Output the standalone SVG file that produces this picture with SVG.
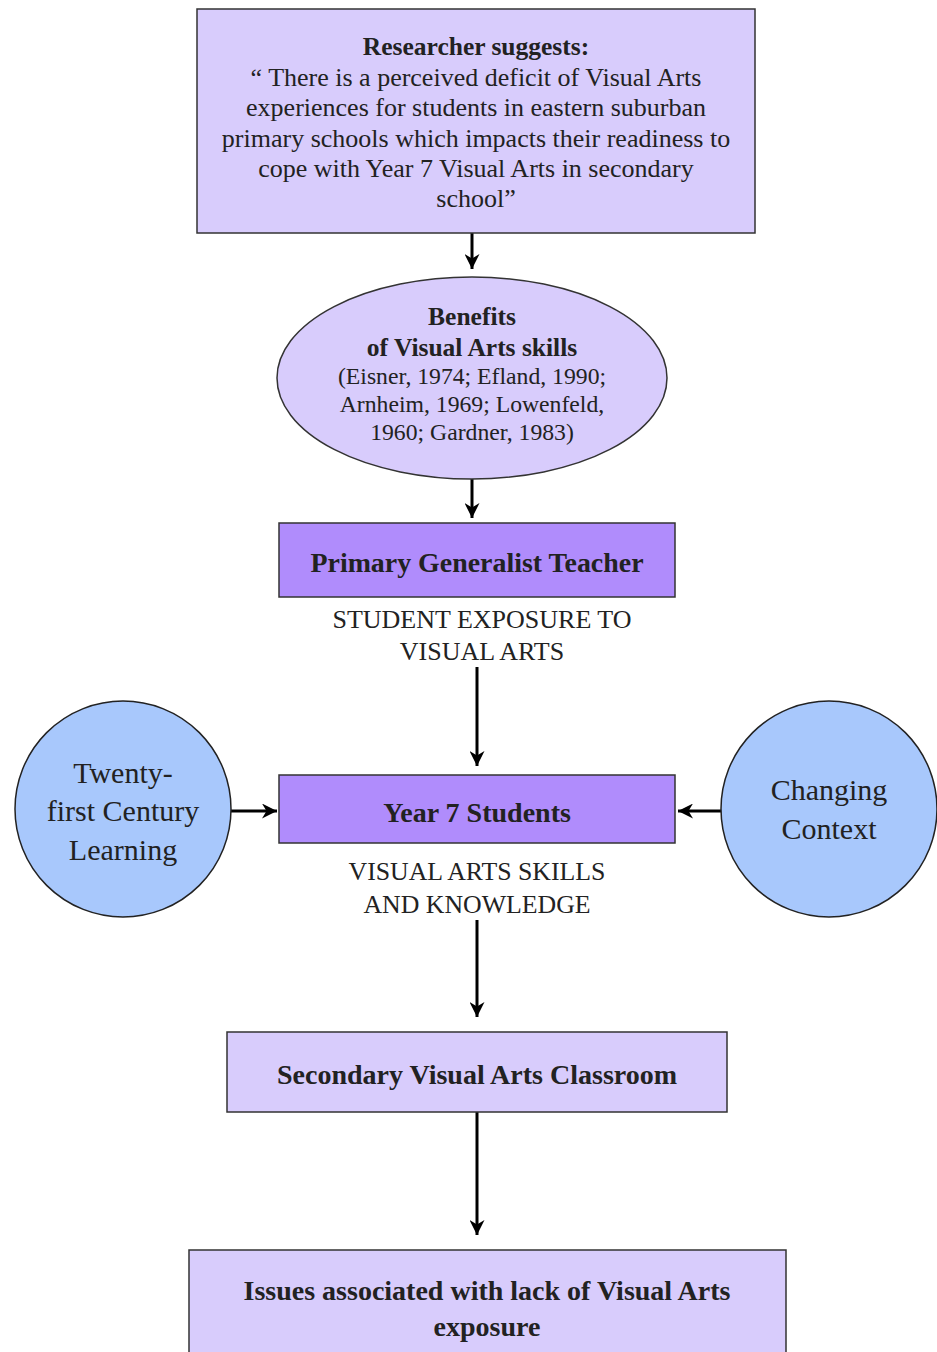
<svg xmlns="http://www.w3.org/2000/svg" width="937" height="1352" viewBox="0 0 937 1352">
<style>
.light{fill:#d8ccfc;stroke:#333;stroke-width:1.5}
.mid{fill:#b08cfc;stroke:#333;stroke-width:1.5}
.blue{fill:#a8c8fc;stroke:#222;stroke-width:1.5}
text{fill:#222;text-anchor:middle}
.b{font-weight:bold}
.conn line{stroke:#000;stroke-width:3}
</style>
<defs>
<marker id="ah" viewBox="0 0 10 10" refX="10" refY="5" markerWidth="5" markerHeight="5" orient="auto" markerUnits="strokeWidth">
<path d="M0,0 L10,5 L0,10 L3,5 z" fill="#000"/>
</marker>
</defs>
<rect width="937" height="1352" fill="#fff"/>
<g class="conn">
<line x1="472" y1="233" x2="472" y2="269" marker-end="url(#ah)"/>
<line x1="472" y1="479" x2="472" y2="518" marker-end="url(#ah)"/>
<line x1="477" y1="667" x2="477" y2="766" marker-end="url(#ah)"/>
<line x1="231" y1="811" x2="277" y2="811" marker-end="url(#ah)"/>
<line x1="722" y1="811" x2="678" y2="811" marker-end="url(#ah)"/>
<line x1="477" y1="920" x2="477" y2="1017" marker-end="url(#ah)"/>
<line x1="477" y1="1112" x2="477" y2="1235" marker-end="url(#ah)"/>
</g>
<g font-family="'Liberation Serif', 'Times New Roman', serif">
<g id="researcher">
<rect class="light" x="197" y="9" width="558" height="224"/>
<text class="b" x="476" y="55" font-size="25.5">Researcher suggests:</text>
<text x="476" y="86" font-size="26">“ There is a perceived deficit of Visual Arts</text>
<text x="476" y="116" font-size="26">experiences for students in eastern suburban</text>
<text x="476" y="147" font-size="26">primary schools which impacts their readiness to</text>
<text x="476" y="177" font-size="26">cope with Year 7 Visual Arts in secondary</text>
<text x="476" y="207" font-size="26">school”</text>
</g>
<g id="benefits">
<ellipse class="light" cx="472" cy="378" rx="195" ry="101"/>
<text class="b" x="472" y="325" font-size="25.5">Benefits</text>
<text class="b" x="472" y="356" font-size="25.5">of Visual Arts skills</text>
<text x="472" y="384" font-size="23.7">(Eisner, 1974; Efland, 1990;</text>
<text x="472" y="412" font-size="23.7">Arnheim, 1969; Lowenfeld,</text>
<text x="472" y="440" font-size="23.7">1960; Gardner, 1983)</text>
</g>
<g id="primary">
<rect class="mid" x="279" y="523" width="396" height="74"/>
<text class="b" x="477" y="572" font-size="27.9">Primary Generalist Teacher</text>
</g>
<g id="label1">
<text x="482" y="628" font-size="26">STUDENT EXPOSURE TO</text>
<text x="482" y="660" font-size="26">VISUAL ARTS</text>
</g>
<g id="year7">
<rect class="mid" x="279" y="775" width="396" height="68"/>
<text class="b" x="477" y="822" font-size="28">Year 7 Students</text>
</g>
<g id="twentyfirst">
<circle class="blue" cx="123" cy="809" r="108"/>
<text x="123" y="783" font-size="30">Twenty-</text>
<text x="123" y="821" font-size="30">first Century</text>
<text x="123" y="860" font-size="30">Learning</text>
</g>
<g id="changing">
<circle class="blue" cx="829" cy="809" r="108"/>
<text x="829" y="800" font-size="30">Changing</text>
<text x="829" y="839" font-size="30">Context</text>
</g>
<g id="label2">
<text x="477" y="880" font-size="25.8">VISUAL ARTS SKILLS</text>
<text x="477" y="913" font-size="25.8">AND KNOWLEDGE</text>
</g>
<g id="secondary">
<rect class="light" x="227" y="1032" width="500" height="80"/>
<text class="b" x="477" y="1084" font-size="28">Secondary Visual Arts Classroom</text>
</g>
<g id="issues">
<rect class="light" x="189" y="1250" width="597" height="110"/>
<text class="b" x="487" y="1300" font-size="28">Issues associated with lack of Visual Arts</text>
<text class="b" x="487" y="1336" font-size="28">exposure</text>
</g>
</g>
</svg>
